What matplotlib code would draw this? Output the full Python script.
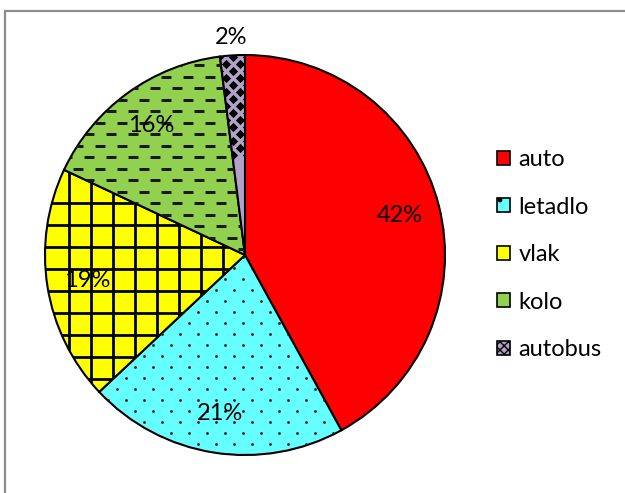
import numpy as np
import matplotlib
matplotlib.use("Agg")
import matplotlib.pyplot as plt
from matplotlib.patches import Rectangle

# data
labels = ["auto", "letadlo", "vlak", "kolo", "autobus"]
shares = [42, 21, 19, 16, 2]
colors = ["#FF0000", "#66FFFF", "#FFFF00", "#92D050", "#B3A2C7"]

plt.rcParams['font.family'] = ['Lato', 'DejaVu Sans']

W, H = 625, 493
fig = plt.figure(figsize=(W / 100, H / 100), dpi=100)

# chart frame (cropped Excel chart area)
fig.patches.append(Rectangle((4.5 / W, -0.05), 1.2, 1 - 10.5 / H + 0.05,
                             transform=fig.transFigure, fill=False,
                             edgecolor="#8c8c8c", linewidth=1.6))

cx, cy, R = 245, 255, 200
ax = fig.add_axes([(cx - R) / W, (H - cy - R) / H, 2 * R / W, 2 * R / H])

wedges, texts, autotexts = ax.pie(
    shares, colors=colors, startangle=90, counterclock=False, radius=1,
    autopct="%d%%", pctdistance=0.8,
    wedgeprops=dict(edgecolor="black", linewidth=1.5),
    textprops=dict(fontsize=17, color="black"))
ax.set_xlim(-1, 1)
ax.set_ylim(-1, 1)
ax.axis("off")

# small slice label sits outside
w = wedges[-1]
mid = np.deg2rad((w.theta1 + w.theta2) / 2)
autotexts[-1].set_position((1.09 * np.cos(mid), 1.09 * np.sin(mid)))

px = 1.0 / R  # one pixel in data units

# letadlo: staggered dots
xs, ys = [], []
for i, yy in enumerate(np.arange(-1.0, 1.0, 11 * px)):
    off = (i % 2) * 9 * px
    for xx in np.arange(-1.0, 1.0, 18 * px):
        xs.append(xx + off)
        ys.append(yy)
sc = ax.scatter(xs, ys, s=4, color="#1a1a1a", marker="o", linewidths=0)
sc.set_clip_path(wedges[1])

# vlak: grid
for xx in np.arange(-176 * px, 0, 22 * px):
    ln, = ax.plot([xx, xx], [-1, 1], color="black", lw=2.0)
    ln.set_clip_path(wedges[2])
for yy in np.arange(52 * px, -1, -22 * px):
    ln, = ax.plot([-1, 0], [yy, yy], color="black", lw=2.0)
    ln.set_clip_path(wedges[2])

# kolo: staggered dashes
xs, ys = [], []
for i, yy in enumerate(np.arange(-0.2, 1.0, 11.5 * px)):
    off = (i % 2) * 11 * px
    for xx in np.arange(-1.0, 0.2, 22 * px):
        xs.append(xx + off)
        ys.append(yy)
sc = ax.scatter(xs, ys, s=45, color="#1a1a1a", marker="_", linewidths=2.0)
sc.set_clip_path(wedges[3])

# autobus: diamonds
xs, ys = [], []
for i, yy in enumerate(np.arange(0.5, 1.05, 7 * px)):
    off = (i % 2) * 7 * px
    for xx in np.arange(-0.2, 0.05, 14 * px):
        xs.append(xx + off)
        ys.append(yy)
sc = ax.scatter(xs, ys, s=22, color="black", marker="D", linewidths=0)
sc.set_clip_path(wedges[4])

# legend
hatches = [None, ".", None, "-", "xxxx"]
handles = [Rectangle((0, 0), 1, 1, facecolor=c, edgecolor="black", hatch=h, lw=1.2)
           for c, h in zip(colors, hatches)]
fig.legend(handles, labels, loc="upper left", bbox_to_anchor=(476 / W, 1 - 128 / H),
           frameon=False, fontsize=17, handlelength=0.55, handleheight=0.55,
           handletextpad=0.35, labelspacing=1.12)

fig.savefig("out.png", dpi=100)
